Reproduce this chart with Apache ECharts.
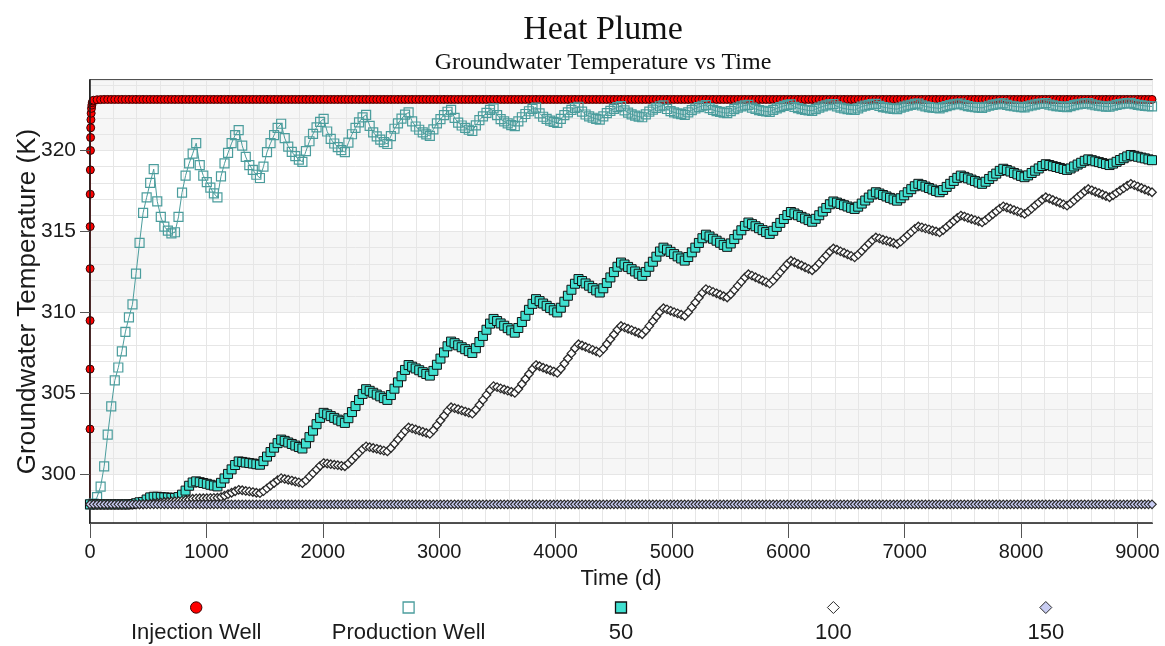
<!doctype html>
<html>
<head>
<meta charset="utf-8" />
<title>Heat Plume</title>
<script src="https://cdn.jsdelivr.net/npm/echarts@6/dist/echarts.min.js"></script>
<style>
  html, body { margin: 0; background: #ffffff; }
  #chart { width: 1165px; height: 646px; }
</style>
</head>
<body>
<div id="chart"></div>
<script>
// model output is written once a month
const DAYS_PER_STEP = 365 / 12;

const seriesNames = ["Injection Well", "Production Well", "50", "100", "150"];
const xTicks = [0, 1000, 2000, 3000, 4000, 5000, 6000, 7000, 8000, 9000];
const yTicks = [300, 305, 310, 315, 320];

// injection well, first month (finer output steps)
const injEarlyDays = [0, 0.25, 0.5, 0.75, 1, 1.5, 2, 3, 4, 5, 6, 8, 10, 13, 16, 20, 25];
const injEarlyTemp = [298.15, 302.8, 306.5, 309.5, 312.7, 315.3, 317.3, 318.8, 320.0, 320.8, 321.4, 321.9, 322.3, 322.6, 322.8, 322.95, 323.05];

// monthly values, K
const injectionTemp = [
  298.15, 323.1, 323.13, 323.14, 323.15, 323.15, 323.15, 323.15, 323.15, 323.15, 323.15, 323.15,
  323.15, 323.15, 323.15, 323.15, 323.15, 323.15, 323.15, 323.15, 323.15, 323.15, 323.15, 323.15,
  323.15, 323.15, 323.15, 323.15, 323.15, 323.15, 323.15, 323.15, 323.15, 323.15, 323.15, 323.15,
  323.15, 323.15, 323.15, 323.15, 323.15, 323.15, 323.15, 323.15, 323.15, 323.15, 323.15, 323.15,
  323.15, 323.15, 323.15, 323.15, 323.15, 323.15, 323.15, 323.15, 323.15, 323.15, 323.15, 323.15,
  323.15, 323.15, 323.15, 323.15, 323.15, 323.15, 323.15, 323.15, 323.15, 323.15, 323.15, 323.15,
  323.15, 323.15, 323.15, 323.15, 323.15, 323.15, 323.15, 323.15, 323.15, 323.15, 323.15, 323.15,
  323.15, 323.15, 323.15, 323.15, 323.15, 323.15, 323.15, 323.15, 323.15, 323.15, 323.15, 323.15,
  323.15, 323.15, 323.15, 323.15, 323.15, 323.15, 323.15, 323.15, 323.15, 323.15, 323.15, 323.15,
  323.15, 323.15, 323.15, 323.15, 323.15, 323.15, 323.15, 323.15, 323.15, 323.15, 323.15, 323.15,
  323.15, 323.15, 323.15, 323.15, 323.15, 323.15, 323.15, 323.15, 323.15, 323.15, 323.15, 323.15,
  323.15, 323.15, 323.15, 323.15, 323.15, 323.15, 323.15, 323.15, 323.15, 323.15, 323.15, 323.15,
  323.15, 323.15, 323.15, 323.15, 323.15, 323.15, 323.15, 323.15, 323.15, 323.15, 323.15, 323.15,
  323.15, 323.15, 323.15, 323.15, 323.15, 323.15, 323.15, 323.15, 323.15, 323.15, 323.15, 323.15,
  323.15, 323.15, 323.15, 323.15, 323.15, 323.15, 323.15, 323.15, 323.15, 323.15, 323.15, 323.15,
  323.15, 323.15, 323.15, 323.15, 323.15, 323.15, 323.15, 323.15, 323.15, 323.15, 323.15, 323.15,
  323.15, 323.15, 323.15, 323.15, 323.15, 323.15, 323.15, 323.15, 323.15, 323.15, 323.15, 323.15,
  323.15, 323.15, 323.15, 323.15, 323.15, 323.15, 323.15, 323.15, 323.15, 323.15, 323.15, 323.15,
  323.15, 323.15, 323.15, 323.15, 323.15, 323.15, 323.15, 323.15, 323.15, 323.15, 323.15, 323.15,
  323.15, 323.15, 323.15, 323.15, 323.15, 323.15, 323.15, 323.15, 323.15, 323.15, 323.15, 323.15,
  323.15, 323.15, 323.15, 323.15, 323.15, 323.15, 323.15, 323.15, 323.15, 323.15, 323.15, 323.15,
  323.15, 323.15, 323.15, 323.15, 323.15, 323.15, 323.15, 323.15, 323.15, 323.15, 323.15, 323.15,
  323.15, 323.15, 323.15, 323.15, 323.15, 323.15, 323.15, 323.15, 323.15, 323.15, 323.15, 323.15,
  323.15, 323.15, 323.15, 323.15, 323.15, 323.15, 323.15, 323.15, 323.15, 323.15, 323.15, 323.15,
  323.15, 323.15, 323.15, 323.15, 323.15, 323.15, 323.15, 323.15, 323.15, 323.15, 323.15, 323.15,
  323.15
];

const productionTemp = [
  298.15, 298.2, 298.6, 299.25, 300.5, 302.45, 304.2, 305.8, 306.6, 307.6, 308.8, 309.7,
  310.5, 312.4, 314.3, 316.15, 317.1, 318.0, 318.85, 316.86, 315.9, 315.3, 315.05, 314.88,
  314.95, 315.9, 317.4, 318.45, 319.2, 319.8, 320.45, 319.1, 318.45, 318.05, 317.7, 317.35,
  317.1, 318.4, 319.2, 319.85, 320.45, 320.95, 321.25, 320.3, 319.6, 319.1, 318.8, 318.5,
  318.3, 319.0, 319.9, 320.45, 320.95, 321.4, 321.65, 320.76, 320.24, 319.91, 319.65, 319.44,
  319.3, 319.96, 320.57, 321.02, 321.42, 321.76, 321.95, 321.17, 320.72, 320.43, 320.21, 320.02,
  319.9, 320.48, 321.0, 321.4, 321.74, 322.04, 322.2, 321.52, 321.12, 320.87, 320.67, 320.51,
  320.4, 320.89, 321.34, 321.67, 321.96, 322.21, 322.35, 321.8, 321.48, 321.28, 321.12, 320.99,
  320.9, 321.3, 321.67, 321.94, 322.18, 322.39, 322.5, 322.01, 321.72, 321.54, 321.4, 321.28,
  321.2, 321.55, 321.87, 322.11, 322.32, 322.5, 322.6, 322.18, 321.94, 321.79, 321.67, 321.57,
  321.5, 321.79, 322.05, 322.25, 322.42, 322.57, 322.65, 322.29, 322.08, 321.95, 321.84, 321.76,
  321.7, 321.95, 322.18, 322.35, 322.5, 322.63, 322.7, 322.4, 322.22, 322.11, 322.02, 321.95,
  321.9, 322.11, 322.3, 322.45, 322.57, 322.68, 322.74, 322.48, 322.33, 322.23, 322.15, 322.09,
  322.05, 322.23, 322.4, 322.52, 322.63, 322.73, 322.78, 322.56, 322.43, 322.35, 322.29, 322.24,
  322.2, 322.35, 322.49, 322.59, 322.68, 322.76, 322.8, 322.61, 322.5, 322.43, 322.38, 322.33,
  322.3, 322.43, 322.55, 322.64, 322.72, 322.78, 322.82, 322.65, 322.56, 322.49, 322.45, 322.41,
  322.38, 322.5, 322.6, 322.68, 322.75, 322.81, 322.84, 322.69, 322.61, 322.55, 322.51, 322.47,
  322.45, 322.55, 322.65, 322.72, 322.78, 322.84, 322.86, 322.72, 322.64, 322.59, 322.55, 322.52,
  322.5, 322.6, 322.71, 322.77, 322.82, 322.86, 322.88, 322.75, 322.68, 322.64, 322.6, 322.57,
  322.55, 322.64, 322.71, 322.77, 322.82, 322.87, 322.89, 322.78, 322.72, 322.68, 322.64, 322.62,
  322.6, 322.68, 322.74, 322.8, 322.84, 322.88, 322.9, 322.8, 322.74, 322.7, 322.67, 322.65,
  322.63, 322.7, 322.76, 322.81, 322.85, 322.89, 322.91, 322.82, 322.76, 322.73, 322.7, 322.68,
  322.66, 322.73, 322.78, 322.83, 322.88, 322.9, 322.92, 322.83, 322.78, 322.74, 322.72, 322.69,
  322.68, 322.74, 322.8, 322.84, 322.88, 322.91, 322.93, 322.84, 322.79, 322.76, 322.73, 322.71,
  322.7, 322.76, 322.81, 322.86, 322.89, 322.92, 322.94, 322.86, 322.81, 322.78, 322.75, 322.73,
  322.72
];

const obs50Temp = [
  298.15, 298.15, 298.15, 298.15, 298.15, 298.15, 298.15, 298.15, 298.15, 298.15, 298.15, 298.15,
  298.17, 298.22, 298.28, 298.3, 298.45, 298.58, 298.62, 298.62, 298.6, 298.58, 298.57, 298.55,
  298.55, 298.6, 298.75, 299.0, 299.3, 299.5, 299.57, 299.52, 299.47, 299.42, 299.36, 299.31,
  299.26, 299.48, 299.75, 300.03, 300.31, 300.58, 300.8, 300.77, 300.73, 300.7, 300.67, 300.63,
  300.6, 300.82, 301.1, 301.38, 301.65, 301.93, 302.15, 302.07, 301.97, 301.88, 301.78, 301.69,
  301.6, 301.91, 302.3, 302.7, 303.1, 303.49, 303.8, 303.71, 303.6, 303.49, 303.38, 303.28,
  303.18, 303.47, 303.85, 304.22, 304.59, 304.97, 305.26, 305.16, 305.04, 304.93, 304.82, 304.71,
  304.6, 304.9, 305.29, 305.68, 306.06, 306.45, 306.75, 306.65, 306.54, 306.43, 306.31, 306.2,
  306.1, 306.39, 306.77, 307.15, 307.53, 307.91, 308.2, 308.1, 307.97, 307.85, 307.73, 307.61,
  307.5, 307.79, 308.17, 308.55, 308.93, 309.31, 309.6, 309.47, 309.32, 309.18, 309.03, 308.89,
  308.75, 309.04, 309.41, 309.79, 310.16, 310.53, 310.82, 310.7, 310.55, 310.41, 310.27, 310.13,
  310.0, 310.29, 310.66, 311.03, 311.4, 311.77, 312.06, 311.94, 311.79, 311.65, 311.5, 311.36,
  311.23, 311.49, 311.82, 312.16, 312.49, 312.82, 313.08, 312.96, 312.81, 312.67, 312.53, 312.39,
  312.26, 312.5, 312.82, 313.13, 313.44, 313.76, 314.0, 313.88, 313.74, 313.6, 313.46, 313.33,
  313.2, 313.42, 313.71, 314.0, 314.29, 314.58, 314.8, 314.69, 314.55, 314.43, 314.3, 314.17,
  314.05, 314.26, 314.53, 314.8, 315.07, 315.34, 315.55, 315.45, 315.32, 315.2, 315.08, 314.96,
  314.85, 315.04, 315.28, 315.53, 315.77, 316.01, 316.2, 316.11, 316.0, 315.9, 315.8, 315.7,
  315.6, 315.78, 316.0, 316.23, 316.45, 316.68, 316.85, 316.78, 316.7, 316.62, 316.54, 316.46,
  316.39, 316.53, 316.72, 316.91, 317.09, 317.28, 317.42, 317.34, 317.25, 317.16, 317.07, 316.98,
  316.9, 317.05, 317.23, 317.42, 317.61, 317.79, 317.94, 317.86, 317.77, 317.68, 317.59, 317.5,
  317.42, 317.56, 317.75, 317.94, 318.12, 318.31, 318.45, 318.37, 318.28, 318.2, 318.11, 318.02,
  317.94, 318.07, 318.24, 318.41, 318.57, 318.74, 318.87, 318.79, 318.7, 318.61, 318.52, 318.43,
  318.35, 318.46, 318.61, 318.75, 318.89, 319.04, 319.15, 319.1, 319.03, 318.98, 318.92, 318.86,
  318.8, 318.89, 319.01, 319.13, 319.24, 319.36, 319.45, 319.4, 319.33, 319.28, 319.22, 319.16,
  319.1, 319.19, 319.3, 319.41, 319.52, 319.63, 319.72, 319.67, 319.61, 319.56, 319.51, 319.45,
  319.4
];

const obs100Temp = [
  298.15, 298.15, 298.15, 298.15, 298.15, 298.15, 298.15, 298.15, 298.15, 298.15, 298.15, 298.15,
  298.15, 298.15, 298.15, 298.16, 298.18, 298.2, 298.22, 298.25, 298.27, 298.3, 298.31, 298.33,
  298.34, 298.35, 298.38, 298.42, 298.45, 298.5, 298.52, 298.53, 298.53, 298.53, 298.54, 298.55,
  298.56, 298.6, 298.68, 298.78, 298.87, 298.96, 299.05, 299.02, 298.98, 298.95, 298.91, 298.87,
  298.84, 298.97, 299.14, 299.31, 299.47, 299.64, 299.77, 299.72, 299.67, 299.62, 299.56, 299.51,
  299.46, 299.63, 299.86, 300.08, 300.3, 300.53, 300.7, 300.67, 300.63, 300.6, 300.57, 300.53,
  300.5, 300.67, 300.89, 301.12, 301.34, 301.56, 301.73, 301.68, 301.63, 301.58, 301.52, 301.47,
  301.42, 301.63, 301.89, 302.16, 302.43, 302.69, 302.9, 302.84, 302.77, 302.7, 302.63, 302.56,
  302.5, 302.73, 303.03, 303.33, 303.62, 303.92, 304.15, 304.09, 304.02, 303.95, 303.88, 303.81,
  303.75, 303.99, 304.29, 304.6, 304.91, 305.21, 305.45, 305.39, 305.31, 305.24, 305.17, 305.1,
  305.03, 305.27, 305.58, 305.89, 306.2, 306.51, 306.75, 306.68, 306.59, 306.51, 306.43, 306.35,
  306.27, 306.52, 306.84, 307.16, 307.47, 307.79, 308.04, 307.96, 307.87, 307.78, 307.69, 307.6,
  307.52, 307.75, 308.05, 308.34, 308.64, 308.93, 309.16, 309.08, 308.99, 308.91, 308.82, 308.73,
  308.65, 308.88, 309.17, 309.46, 309.75, 310.04, 310.26, 310.19, 310.1, 310.02, 309.94, 309.86,
  309.78, 310.01, 310.31, 310.61, 310.91, 311.21, 311.44, 311.36, 311.27, 311.18, 311.09, 311.0,
  310.92, 311.12, 311.38, 311.64, 311.9, 312.16, 312.36, 312.27, 312.17, 312.07, 311.97, 311.87,
  311.78, 311.98, 312.23, 312.49, 312.74, 312.99, 313.19, 313.1, 312.99, 312.9, 312.79, 312.69,
  312.6, 312.79, 313.03, 313.28, 313.52, 313.76, 313.95, 313.87, 313.77, 313.68, 313.58, 313.49,
  313.4, 313.57, 313.79, 314.02, 314.24, 314.46, 314.63, 314.57, 314.49, 314.43, 314.36, 314.29,
  314.22, 314.37, 314.57, 314.77, 314.96, 315.16, 315.31, 315.25, 315.19, 315.13, 315.06, 315.0,
  314.94, 315.09, 315.27, 315.46, 315.65, 315.83, 315.98, 315.92, 315.84, 315.77, 315.7, 315.63,
  315.56, 315.7, 315.88, 316.06, 316.23, 316.41, 316.55, 316.48, 316.4, 316.32, 316.24, 316.16,
  316.08, 316.22, 316.41, 316.6, 316.78, 316.97, 317.11, 317.03, 316.94, 316.85, 316.76, 316.67,
  316.59, 316.73, 316.92, 317.11, 317.29, 317.48, 317.62, 317.54, 317.45, 317.37, 317.28, 317.19,
  317.11, 317.23, 317.38, 317.53, 317.67, 317.82, 317.94, 317.86, 317.77, 317.68, 317.59, 317.5,
  317.42
];

const obs150Temp = [
  298.15, 298.15, 298.15, 298.15, 298.15, 298.15, 298.15, 298.15, 298.15, 298.15, 298.15, 298.15,
  298.15, 298.15, 298.15, 298.15, 298.15, 298.15, 298.15, 298.15, 298.15, 298.15, 298.15, 298.15,
  298.15, 298.15, 298.15, 298.15, 298.15, 298.15, 298.15, 298.15, 298.15, 298.15, 298.15, 298.15,
  298.15, 298.15, 298.15, 298.15, 298.15, 298.15, 298.15, 298.15, 298.15, 298.15, 298.15, 298.15,
  298.15, 298.15, 298.15, 298.15, 298.15, 298.15, 298.15, 298.15, 298.15, 298.15, 298.15, 298.15,
  298.15, 298.15, 298.15, 298.15, 298.15, 298.15, 298.15, 298.15, 298.15, 298.15, 298.15, 298.15,
  298.15, 298.15, 298.15, 298.15, 298.15, 298.15, 298.15, 298.15, 298.15, 298.15, 298.15, 298.15,
  298.15, 298.15, 298.15, 298.15, 298.15, 298.15, 298.15, 298.15, 298.15, 298.15, 298.15, 298.15,
  298.15, 298.15, 298.15, 298.15, 298.15, 298.15, 298.15, 298.15, 298.15, 298.15, 298.15, 298.15,
  298.15, 298.15, 298.15, 298.15, 298.15, 298.15, 298.15, 298.15, 298.15, 298.15, 298.15, 298.15,
  298.15, 298.15, 298.15, 298.15, 298.15, 298.15, 298.15, 298.15, 298.15, 298.15, 298.15, 298.15,
  298.15, 298.15, 298.15, 298.15, 298.15, 298.15, 298.15, 298.15, 298.15, 298.15, 298.15, 298.15,
  298.15, 298.15, 298.15, 298.15, 298.15, 298.15, 298.15, 298.15, 298.15, 298.15, 298.15, 298.15,
  298.15, 298.15, 298.15, 298.15, 298.15, 298.15, 298.15, 298.15, 298.15, 298.15, 298.15, 298.15,
  298.15, 298.15, 298.15, 298.15, 298.15, 298.15, 298.15, 298.15, 298.15, 298.15, 298.15, 298.15,
  298.15, 298.15, 298.15, 298.15, 298.15, 298.15, 298.15, 298.15, 298.15, 298.15, 298.15, 298.15,
  298.15, 298.15, 298.15, 298.15, 298.15, 298.15, 298.15, 298.15, 298.15, 298.15, 298.15, 298.15,
  298.15, 298.15, 298.15, 298.15, 298.15, 298.15, 298.15, 298.15, 298.15, 298.15, 298.15, 298.15,
  298.15, 298.15, 298.15, 298.15, 298.15, 298.15, 298.15, 298.15, 298.15, 298.15, 298.15, 298.15,
  298.15, 298.15, 298.15, 298.15, 298.15, 298.15, 298.15, 298.15, 298.15, 298.15, 298.15, 298.15,
  298.15, 298.15, 298.15, 298.15, 298.15, 298.15, 298.15, 298.15, 298.15, 298.15, 298.15, 298.15,
  298.15, 298.15, 298.15, 298.15, 298.15, 298.15, 298.15, 298.15, 298.15, 298.15, 298.15, 298.15,
  298.15, 298.15, 298.15, 298.15, 298.15, 298.15, 298.15, 298.15, 298.15, 298.15, 298.15, 298.15,
  298.15, 298.15, 298.15, 298.15, 298.15, 298.15, 298.15, 298.15, 298.15, 298.15, 298.15, 298.15,
  298.15, 298.15, 298.15, 298.15, 298.15, 298.15, 298.15, 298.15, 298.15, 298.15, 298.15, 298.15,
  298.15
];

// marker looks, same order as seriesNames
const looks = [
  { symbol: "circle", size: 8, fill: "#ff0000", edge: "#3a0000", line: "#e00000", bw: 1 },
  { symbol: "rect", size: 9, fill: "rgba(255,255,255,0)", edge: "#4b9d9d", line: "#4b9d9d", bw: 1.2 },
  { symbol: "rect", size: 9, fill: "#40e0d0", edge: "#111111", line: "#111111", bw: 1 },
  { symbol: "diamond", size: 8.5, fill: "#ffffff", edge: "#2a2a2a", line: "#2a2a2a", bw: 1.3 },
  { symbol: "diamond", size: 8.5, fill: "#c8ccf2", edge: "#2a2a2a", line: "#2a2a2a", bw: 1.1 },
];

const days = productionTemp.map((_, i) => i * DAYS_PER_STEP);
const pairs = (temps) => temps.map((v, i) => [days[i], v]);

const seriesData = [
  injEarlyDays.map((d, i) => [d, injEarlyTemp[i]]).concat(pairs(injectionTemp).slice(1)),
  pairs(productionTemp),
  pairs(obs50Temp),
  pairs(obs100Temp),
  pairs(obs150Temp),
];

const GRID = { left: 90, right: 13, top: 80, bottom: 123 };
const plotWidth = 1165 - GRID.left - GRID.right;
const colWidth = plotWidth / seriesNames.length;
const legendIconY = 607.5;
const legendTextY = 633;

function legendIcon(look, cx, cy) {
  const style = { fill: look.fill, stroke: look.edge, lineWidth: 1 };
  if (look.symbol === "circle") {
    return { type: "circle", shape: { cx, cy, r: 5.7 }, style };
  }
  if (look.symbol === "rect") {
    const s = 11;
    return { type: "rect", shape: { x: cx - s / 2, y: cy - s / 2, width: s, height: s }, style: Object.assign({}, style, { lineWidth: 1.3 }) };
  }
  return {
    type: "polygon",
    shape: { points: [[cx, cy - 6], [cx + 6, cy], [cx, cy + 6], [cx - 6, cy]] },
    style,
  };
}

const legendGraphics = seriesNames.flatMap((name, i) => {
  const cx = GRID.left + (i + 0.5) * colWidth;
  return [
    legendIcon(looks[i], cx, legendIconY),
    {
      type: "text",
      x: cx,
      y: legendTextY,
      style: {
        text: name,
        fill: "#1a1a1a",
        font: '22px "Liberation Sans", Arial, sans-serif',
        align: "center",
        verticalAlign: "middle",
      },
    },
  ];
});

const sans = '"Liberation Sans", Arial, sans-serif';
const serif = '"Liberation Serif", "Times New Roman", serif';
const gridLine = { show: true, lineStyle: { color: "#e6e6e6", width: 1 } };
const hidden = { show: false };

const chart = echarts.init(document.getElementById("chart"), null, { renderer: "canvas" });
chart.setOption({
  animation: false,
  backgroundColor: "#ffffff",
  title: [
    {
      text: "Heat Plume",
      left: 598,
      top: 8,
      textAlign: "center",
      textStyle: { fontFamily: serif, fontSize: 34, fontWeight: "normal", color: "#111111" },
    },
    {
      text: "Groundwater Temperature vs Time",
      left: 598,
      top: 46,
      textAlign: "center",
      textStyle: { fontFamily: serif, fontSize: 24, fontWeight: "normal", color: "#111111" },
    },
  ],
  grid: Object.assign(
    { show: true, borderColor: "#1a1a1a", borderWidth: 1.5, backgroundColor: "#ffffff", containLabel: false, outerBoundsMode: "none" },
    GRID
  ),
  xAxis: [
    {
      type: "value",
      min: 0,
      max: 9125,
      name: "Time (d)",
      nameLocation: "middle",
      nameGap: 45,
      nameTextStyle: { fontFamily: sans, fontSize: 22, color: "#1a1a1a" },
      axisLine: { show: true, lineStyle: { color: "#1a1a1a", width: 1.5 } },
      axisTick: { show: true, customValues: xTicks, length: 15, lineStyle: { color: "#555555" } },
      axisLabel: {
        customValues: xTicks,
        formatter: (v) => String(v),
        margin: 19,
        fontFamily: sans,
        fontSize: 20,
        color: "#1a1a1a",
      },
      splitLine: hidden,
      z: 3,
    },
    {
      // grid lines every 200 d
      type: "value",
      position: "top",
      min: 0,
      max: 9125,
      interval: 200,
      axisLine: hidden,
      axisTick: hidden,
      axisLabel: hidden,
      splitLine: gridLine,
      z: 1,
    },
  ],
  yAxis: [
    {
      type: "value",
      min: 297,
      max: 324.35,
      name: "Groundwater Temperature (K)",
      nameLocation: "middle",
      nameGap: 49,
      nameMoveOverlap: false,
      nameTextStyle: { fontFamily: sans, fontSize: 26, color: "#1a1a1a" },
      axisLine: { show: true, lineStyle: { color: "#1a1a1a", width: 1.5 } },
      axisTick: { show: true, customValues: yTicks, length: 10, lineStyle: { color: "#555555" } },
      axisLabel: { customValues: yTicks, margin: 14, fontFamily: sans, fontSize: 21, color: "#1a1a1a" },
      splitLine: hidden,
      z: 3,
    },
    {
      // grid lines every 1 K
      type: "value",
      position: "right",
      min: 297,
      max: 324.35,
      interval: 1,
      axisLine: hidden,
      axisTick: hidden,
      axisLabel: hidden,
      splitLine: gridLine,
      z: 1,
    },
    {
      // alternating strips between the major values
      type: "value",
      position: "right",
      offset: 0,
      min: 297,
      max: 324.35,
      splitNumber: 5,
      axisLine: hidden,
      axisTick: hidden,
      axisLabel: hidden,
      splitLine: hidden,
      splitArea: { show: true, areaStyle: { color: ["#ffffff", "#f6f6f6"] } },
      z: 0,
    },
  ],
  graphic: legendGraphics,
  series: seriesNames.map((name, i) => ({
    name,
    type: "line",
    data: seriesData[i],
    showAllSymbol: true,
    symbol: looks[i].symbol,
    symbolSize: looks[i].size,
    itemStyle: { color: looks[i].fill, borderColor: looks[i].edge, borderWidth: looks[i].bw },
    lineStyle: { color: looks[i].line, width: 1 },
    emphasis: { disabled: true },
    z: 2 + i,
  })),
});
</script>
</body>
</html>
